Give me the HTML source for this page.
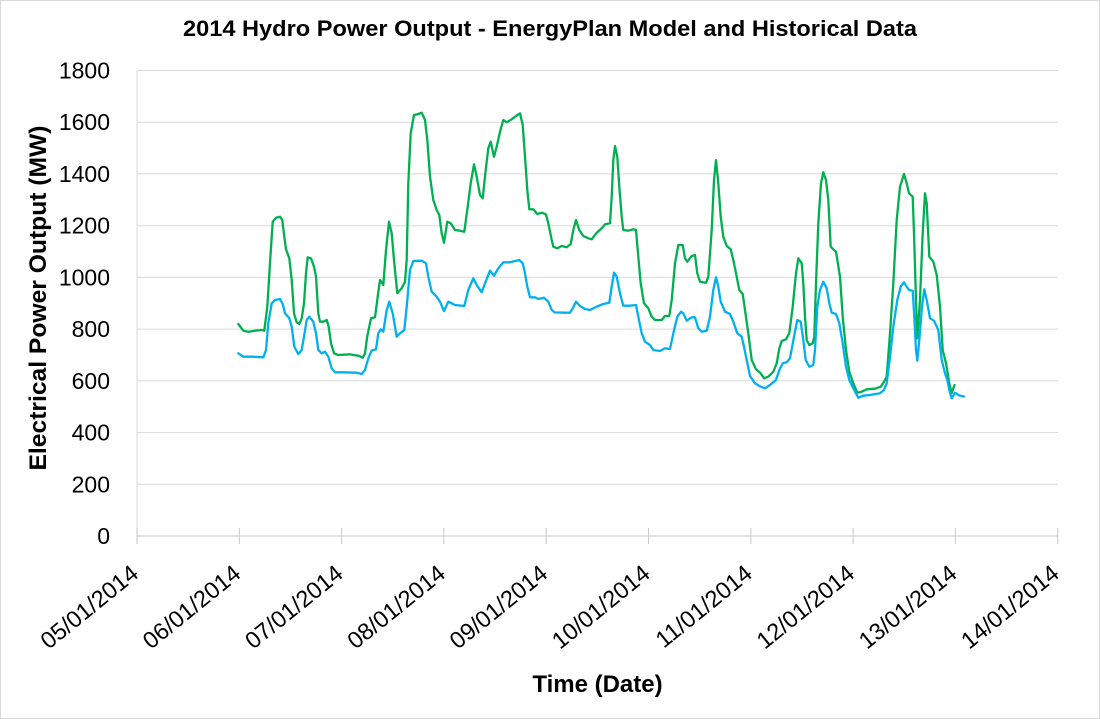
<!DOCTYPE html>
<html>
<head>
<meta charset="utf-8">
<style>
html,body{margin:0;padding:0;background:#fff;}
svg{display:block;}
text{font-family:"Liberation Sans",Arial,sans-serif;fill:#000;}
</style>
</head>
<body>
<svg width="1100" height="719" viewBox="0 0 1100 719" xmlns="http://www.w3.org/2000/svg">
<rect x="0.5" y="0.5" width="1099" height="718" fill="#fff" stroke="#d9d9d9" stroke-width="1"/>
<!-- title -->
<text x="550" y="36" font-size="22" font-weight="bold" text-anchor="middle" textLength="734" lengthAdjust="spacingAndGlyphs">2014 Hydro Power Output - EnergyPlan Model and Historical Data</text>
<!-- gridlines -->
<g stroke="#d9d9d9" stroke-width="1">
<line x1="137" y1="484.3" x2="1058" y2="484.3"/>
<line x1="137" y1="432.6" x2="1058" y2="432.6"/>
<line x1="137" y1="380.8" x2="1058" y2="380.8"/>
<line x1="137" y1="329.1" x2="1058" y2="329.1"/>
<line x1="137" y1="277.4" x2="1058" y2="277.4"/>
<line x1="137" y1="225.7" x2="1058" y2="225.7"/>
<line x1="137" y1="173.9" x2="1058" y2="173.9"/>
<line x1="137" y1="122.2" x2="1058" y2="122.2"/>
<line x1="137" y1="70.5" x2="1058" y2="70.5"/>
<line x1="137" y1="70.5" x2="137" y2="536"/>
</g>
<!-- x axis -->
<g stroke="#c8c8c8" stroke-width="1">
<line x1="137" y1="536" x2="1058" y2="536"/>
<line x1="137" y1="528" x2="137" y2="544"/>
<line x1="239.3" y1="528" x2="239.3" y2="544"/>
<line x1="341.6" y1="528" x2="341.6" y2="544"/>
<line x1="443.9" y1="528" x2="443.9" y2="544"/>
<line x1="546.2" y1="528" x2="546.2" y2="544"/>
<line x1="648.5" y1="528" x2="648.5" y2="544"/>
<line x1="750.8" y1="528" x2="750.8" y2="544"/>
<line x1="853.1" y1="528" x2="853.1" y2="544"/>
<line x1="955.4" y1="528" x2="955.4" y2="544"/>
<line x1="1057.7" y1="528" x2="1057.7" y2="544"/>
</g>
<!-- y tick labels -->
<g font-size="23" text-anchor="end">
<text x="110" y="544">0</text>
<text x="110" y="492.3">200</text>
<text x="110" y="440.6">400</text>
<text x="110" y="388.8">600</text>
<text x="110" y="337.1">800</text>
<text x="110" y="285.4">1000</text>
<text x="110" y="233.7">1200</text>
<text x="110" y="181.9">1400</text>
<text x="110" y="130.2">1600</text>
<text x="110" y="78.5">1800</text>
</g>
<!-- x tick labels -->
<g font-size="23.5" text-anchor="end">
<text transform="translate(140,576) rotate(-39)">05/01/2014</text>
<text transform="translate(242.3,576) rotate(-39)">06/01/2014</text>
<text transform="translate(344.6,576) rotate(-39)">07/01/2014</text>
<text transform="translate(446.9,576) rotate(-39)">08/01/2014</text>
<text transform="translate(549.2,576) rotate(-39)">09/01/2014</text>
<text transform="translate(651.5,576) rotate(-39)">10/01/2014</text>
<text transform="translate(753.8,576) rotate(-39)">11/01/2014</text>
<text transform="translate(856.1,576) rotate(-39)">12/01/2014</text>
<text transform="translate(958.4,576) rotate(-39)">13/01/2014</text>
<text transform="translate(1060.7,576) rotate(-39)">14/01/2014</text>
</g>
<!-- axis titles -->
<text x="597.5" y="692" font-size="24" font-weight="bold" text-anchor="middle">Time (Date)</text>
<text transform="translate(46,298) rotate(-90)" font-size="24" font-weight="bold" text-anchor="middle" textLength="345" lengthAdjust="spacingAndGlyphs">Electrical Power Output (MW)</text>
<!-- green series -->
<polyline fill="none" stroke="#00B050" stroke-width="2.3" stroke-linejoin="round" stroke-linecap="round" points="238.3,324 243.3,330.7 248.3,331.7 255,330.7 261.7,330 264.3,330.7 267.3,306.7 270,263 272.7,221.7 276,217.7 280,216.7 282.3,220 284.3,236.7 286,249.3 289.3,258.3 291.7,280 294,313.3 296.7,322.3 299.3,324 301.7,318.3 304,303.3 306,273.3 307.7,257.3 311,258.3 314,266.7 316,276.7 318.3,313.3 320,321.7 323.3,321.7 326.7,320 328.7,326.7 331,343.3 334,353.3 338.3,355 350,354.3 353.3,355 358.3,355.7 362.7,357.7 365,353.3 367.2,336.7 371,318.3 375,317.3 377.7,296.7 380,280 383.3,285 386,250 389,221.7 391.7,233.3 394,260 397.3,293.3 401.7,288.3 405,281.7 406.7,260 408.3,183.3 410.7,133.3 414,115 418.3,114 421.7,112.7 425,120 427.3,140 430,176.7 433.3,200 436.7,210 439.3,215 441.7,233.3 444,242.7 447.3,221.7 450.7,223.3 455,230 460,230.7 464.3,231.7 467.7,206.7 470.7,183.3 474,164.3 476.7,176.7 480,195 482.7,198.3 485.7,170 488.3,148.3 490.7,141.7 494,156.7 496.7,146.7 500,131.7 503.3,120 506.7,122.3 511.7,119.3 516,116 520,113.3 522.7,125 525,156.7 527.3,190 529.3,209.3 533.3,209.3 537.3,214 541.7,212.7 546,214.3 548.3,223.3 551.7,240 553.3,246.7 557.3,248.3 561.7,246 566.7,247.3 570.7,244 573.3,230 576,220 579.3,230 583.3,236 588.3,238.3 591.7,239.3 596.7,232.7 601.7,228.3 605,224.3 610,223.3 611.7,196.7 613.3,160 615,146 617.3,156.7 619.3,186.7 621.7,216.7 623.3,230 628.3,230.7 633.3,229.3 636,230 638.3,256.7 640.7,283.3 644,303.3 648.3,308.3 651.7,316.7 655,320 661.7,320 665,316 669.3,316 671.7,300 675,263.3 678.3,245 682.7,245 685,258.3 687.3,261.7 691.7,256 695,255 697.3,273.3 700,281.7 706,282.7 708.3,276.7 711.7,230 714,180 716,160 718.3,183.3 720.7,216.7 723.3,236.7 726.7,246 730.7,249.3 733.3,260 736.7,276.7 739.3,290 742.7,294 745,310 748.3,333.3 751.7,360 756,369.3 760.7,373.3 764,378.3 768.3,376.7 773.3,371.7 776.7,363.3 779.3,348.3 781.7,341 786,339.3 789.3,333.3 792.7,306.7 796,273.3 798.3,258.3 801.7,263.3 803.3,283.3 805,316.7 806.7,340 809.3,345 812.7,343.3 814.3,336.7 816,283.3 818.3,223.3 821,183.3 823.3,172.3 826,180 828.3,200 830.7,246.7 833.3,249.3 836,251.7 840,276.7 842.7,316.7 846,350 849.3,371.7 853.3,383.3 857.3,392.7 861.7,391.7 866.7,389.3 875,388.7 880.7,386.7 884,381.7 886.7,376.7 890,333.3 893.3,283.3 896.7,220 900,186.7 904,174 906.7,183.3 909,193.3 912.7,196.7 914,233.3 915.7,290 917.3,338.3 920,300 922.7,233.3 925,193.3 926.7,203.3 929.3,256.7 933.3,261.7 936.7,275 940,306.7 942.7,350 946,363.3 949.3,383.3 951.7,393 954.5,385"/>
<!-- blue series -->
<polyline fill="none" stroke="#00B0F0" stroke-width="2.3" stroke-linejoin="round" stroke-linecap="round" points="238.3,353.3 243.3,356.7 253.3,356.7 263.3,357.3 266,350 268.3,323.3 271.7,303.3 275,300 280,299 282.7,304 285,313.3 289.3,318.3 291.7,326.7 294.3,346.7 298.3,354 301.7,350 304,336.7 306.7,320 309.3,316.7 313.3,321.7 316,333.3 318.3,350 321.7,353.3 325,351.7 328.3,356.7 331.7,368.3 335,372.3 343.3,372.3 356.7,372.7 361.7,374 365,370 368.3,358.3 371.7,350.5 376,349.3 378.3,333.3 380.7,329.3 383.3,331.7 386.7,310 389.3,301.7 392.7,313.3 396.7,336.7 400,333.3 404.3,330 406.7,306.7 410,270 413.3,261 421.7,260.7 426,263.3 428.3,276.7 431.7,291.7 436.7,296.7 440,301.7 444,311 448.3,301.7 455,305 464.3,306 468.3,290 473.3,278.3 476.7,285 481.7,292.3 485,283.3 490,270.7 494,275.7 498.3,268.3 503.3,262.3 510,262.3 519.3,260 522.7,263.3 525,273.3 527.3,286.7 530,297.3 535,297.3 538.3,299 544,297.7 548.3,301.7 551.7,310 555,312.5 560,312.5 563.3,312.7 570,312.7 572.7,308.3 576,301.7 580,306 585,309 590,310 596.7,306.7 603.3,304 609.3,302.7 611.7,286.7 614,272.7 616.7,276.7 620,293.3 623.3,305.7 630,305.7 636,305 638.3,316.7 641.7,333.3 645,341.7 650,345 653.3,350 660,351 665,348.3 670,349 673.3,333.3 677.3,316.7 681,311.7 683.3,313.3 686.7,320.7 691.7,317.3 695,317.3 698.3,328.3 701.7,331.7 706.7,330.7 710,316.7 713.3,290 716,277.3 718.3,286.7 720.7,301.7 725,311.7 730,314 733.3,321.7 737.3,333.3 741.7,336.7 744,346.7 746.7,360 750,376 755,383.3 760.7,386.7 765,388.3 770,385 776,380 779.3,370 782.7,363.3 786.7,362.3 790,358.3 794,336.7 797.3,320 800.7,321.7 803.3,340 805.7,360 809.3,366.7 813.3,365 815,350 817.3,306.7 820,290 823.3,281.7 826.7,288.3 829.3,303.3 831.7,312.7 836,314 839.3,323.3 842.7,343.3 846,366.7 849.3,380 853.3,388.3 858.3,397.7 863.3,395.7 870,395 880,393.3 884,390 886.7,383.3 890,356.7 893.3,326.7 897.3,300 900.7,286.7 904,282.3 906.7,286.7 909,290 912.7,290.7 914.3,316.7 916,350 917.3,360.7 919.3,340 922,306.7 924.3,289.3 926.7,300 930,318.3 934,320.7 938.3,330 941.7,360 945,373.3 947.3,380 949.3,390 951.7,398.3 955,392.7 959.3,395.5 964,396.5"/>
</svg>
</body>
</html>
